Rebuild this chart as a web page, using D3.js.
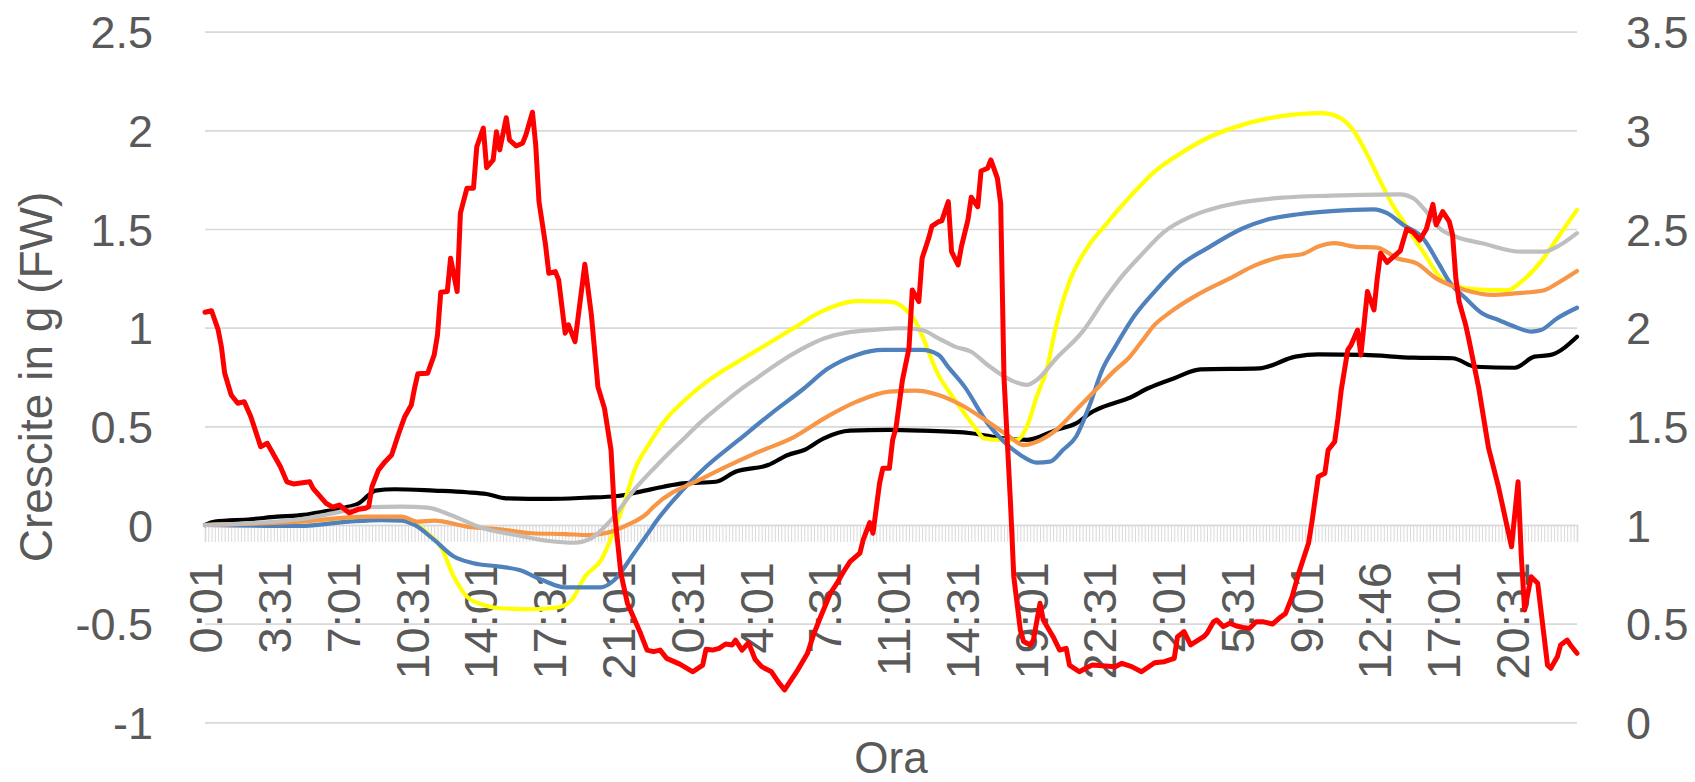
<!DOCTYPE html>
<html><head><meta charset="utf-8">
<script src="https://cdn.jsdelivr.net/npm/d3@7"></script>
<style>body{margin:0;background:#fff}svg{display:block}</style>
</head><body>
<svg id="c" width="1695" height="782"></svg>
<script>
// ---- data ----
const categoryCount = 420;            // one category every 10 minutes
const labelEvery = 21;
const tickLabels = ["0:01","3:31","7:01","10:31","14:01","17:31","21:01","0:31","4:01","7:31",
  "11:01","14:31","19:01","22:31","2:01","5:31","9:01","12:46","17:01","20:31"];
const leftTicks = [-1,-0.5,0,0.5,1,1.5,2,2.5];
const rightTicks = [0,0.5,1,1.5,2,2.5,3,3.5];
const yTitle = "Crescite in g (FW)";
const xTitle = "Ora";

// [category index, value]
const blackPts = [[0,0],[3,0.017],[14,0.029],[22,0.042],[30,0.051],[34,0.062],[39,0.076],[44,0.093],[47,0.11],[50,0.152],[52,0.174],[58,0.181],[70,0.174],[80,0.166],[86,0.157],[92,0.135],[105,0.132],[116,0.138],[126,0.147],[133,0.169],[140,0.194],[146,0.211],[156,0.219],[162,0.27],[172,0.304],[178,0.355],[183,0.38],[189,0.439],[197,0.478],[209,0.482],[219,0.478],[234,0.465],[244,0.439],[251,0.431],[260,0.482],[266,0.515],[271,0.574],[278,0.62],[282,0.642],[288,0.693],[296,0.744],[304,0.789],[322,0.794],[333,0.853],[340,0.865],[354,0.862],[369,0.848],[381,0.845],[388,0.802],[400,0.797],[406,0.853],[411,0.862],[419,0.954]];
const yellowPts = [[0,0],[20,0.01],[40,0.03],[55,0.04],[62,0.025],[68,-0.042],[72,-0.11],[76,-0.262],[80,-0.363],[85,-0.405],[90,-0.422],[100,-0.427],[108,-0.417],[112,-0.38],[116,-0.262],[121,-0.177],[125,-0.025],[128,0.11],[131,0.27],[136,0.42],[141,0.54],[147,0.64],[152,0.71],[158,0.78],[164,0.84],[171,0.91],[180,1.0],[188,1.08],[199,1.135],[209,1.132],[213,1.106],[217,1.03],[224,0.76],[229,0.634],[235,0.498],[238,0.439],[243,0.431],[248,0.431],[251,0.498],[254,0.65],[257,0.786],[260,1.014],[264,1.233],[270,1.419],[275,1.52],[278,1.58],[283,1.673],[290,1.791],[298,1.884],[306,1.96],[316,2.024],[324,2.058],[334,2.082],[341,2.087],[346,2.069],[351,1.993],[355,1.875],[359,1.74],[363,1.613],[366,1.537],[372,1.385],[378,1.242],[385,1.2],[393,1.191],[398,1.191],[402,1.233],[408,1.335],[413,1.453],[419,1.597]];
const bluePts = [[0,0],[29,-0.005],[44,0.017],[54,0.025],[60,0.022],[64,0],[70,-0.076],[76,-0.16],[82,-0.194],[90,-0.211],[96,-0.228],[103,-0.279],[110,-0.316],[121,-0.316],[125,-0.279],[131,-0.143],[136,-0.025],[137,0],[144,0.143],[153,0.295],[163,0.431],[173,0.566],[183,0.693],[190,0.79],[199,0.862],[207,0.887],[219,0.887],[224,0.862],[227,0.8],[232,0.7],[239,0.515],[244,0.422],[249,0.355],[254,0.316],[258,0.321],[262,0.38],[266,0.447],[270,0.6],[274,0.786],[278,0.904],[284,1.064],[290,1.183],[298,1.318],[306,1.402],[317,1.504],[324,1.546],[334,1.575],[344,1.591],[357,1.6],[361,1.58],[366,1.52],[372,1.453],[377,1.318],[380,1.233],[385,1.149],[390,1.073],[395,1.039],[400,1.005],[405,0.98],[408,0.988],[413,1.048],[419,1.101]];
const orangePts = [[0,0],[29,0.017],[49,0.042],[60,0.042],[65,0.017],[70,0.022],[80,-0.008],[90,-0.022],[100,-0.042],[110,-0.046],[117,-0.051],[125,-0.029],[129,0],[135,0.059],[137,0.093],[153,0.245],[168,0.363],[180,0.447],[190,0.549],[199,0.625],[209,0.676],[217,0.681],[224,0.659],[231,0.608],[239,0.524],[245,0.456],[250,0.405],[254,0.422],[260,0.482],[266,0.583],[272,0.684],[278,0.786],[282,0.845],[286,0.929],[290,1.014],[295,1.081],[303,1.166],[313,1.25],[321,1.318],[329,1.36],[335,1.372],[340,1.411],[345,1.428],[351,1.411],[358,1.406],[364,1.352],[370,1.326],[376,1.25],[385,1.19],[393,1.166],[400,1.174],[409,1.19],[413,1.225],[419,1.287]];
const greyPts = [[0,0],[29,0.029],[39,0.059],[49,0.09],[60,0.093],[68,0.088],[75,0.051],[85,-0.017],[95,-0.051],[105,-0.081],[113,-0.09],[118,-0.067],[124,0.025],[131,0.177],[137,0.285],[142,0.37],[147,0.45],[152,0.53],[157,0.6],[163,0.68],[169,0.75],[175,0.82],[182,0.89],[189,0.945],[196,0.975],[205,0.99],[214,0.997],[219,0.988],[224,0.946],[229,0.904],[234,0.878],[239,0.811],[246,0.735],[251,0.71],[254,0.735],[260,0.845],[268,0.98],[275,1.15],[280,1.26],[286,1.37],[293,1.487],[301,1.563],[310,1.613],[318,1.639],[329,1.659],[344,1.669],[365,1.676],[369,1.656],[373,1.588],[377,1.504],[382,1.461],[390,1.428],[402,1.385],[409,1.385],[413,1.411],[419,1.479]];
// red series on the right axis
const redPts = [[0,2.078],[2,2.086],[4,1.99],[5,1.904],[6,1.77],[8,1.659],[10,1.617],[12,1.625],[14,1.549],[17,1.397],[19,1.414],[23,1.296],[25,1.219],[27,1.208],[32,1.219],[33,1.186],[37,1.11],[39,1.09],[41,1.101],[44,1.062],[45,1.067],[47,1.08],[49,1.085],[50,1.093],[51,1.194],[53,1.279],[55,1.321],[57,1.355],[59,1.456],[61,1.549],[63,1.608],[64,1.693],[65,1.766],[68,1.769],[70,1.862],[71,1.963],[72,2.179],[74,2.183],[75,2.352],[77,2.183],[78,2.58],[80,2.707],[82,2.707],[83,2.917],[85,3.011],[86,2.811],[88,2.85],[89,2.993],[90,2.901],[92,3.064],[93,2.951],[95,2.921],[97,2.935],[98,2.977],[100,3.092],[101,2.926],[102,2.639],[104,2.419],[105,2.276],[107,2.284],[108,2.242],[110,1.972],[111,2.014],[113,1.929],[116,2.321],[118,2.064],[120,1.7],[122,1.591],[124,1.38],[125,1.076],[127,0.755],[129,0.603],[131,0.527],[133,0.451],[135,0.366],[137,0.358],[139,0.366],[141,0.324],[145,0.295],[149,0.256],[152,0.29],[153,0.37],[155,0.366],[157,0.375],[159,0.397],[161,0.392],[162,0.417],[164,0.366],[166,0.403],[168,0.319],[170,0.282],[173,0.256],[175,0.206],[177,0.164],[181,0.265],[184,0.35],[186,0.451],[188,0.535],[191,0.654],[193,0.705],[195,0.763],[197,0.814],[200,0.857],[201,0.924],[203,1.012],[204,0.958],[205,1.085],[206,1.211],[207,1.287],[209,1.287],[210,1.431],[211,1.49],[213,1.735],[215,1.896],[216,2.191],[218,2.132],[219,2.352],[221,2.453],[222,2.515],[224,2.537],[225,2.541],[227,2.639],[228,2.385],[230,2.318],[231,2.411],[233,2.546],[234,2.661],[236,2.613],[237,2.794],[239,2.808],[240,2.85],[242,2.757],[243,2.63],[244,1.75],[246,1.11],[247,0.738],[249,0.468],[250,0.409],[252,0.392],[253,0.417],[255,0.603],[256,0.518],[259,0.434],[261,0.366],[263,0.375],[264,0.29],[267,0.256],[269,0.274],[271,0.29],[275,0.285],[278,0.282],[280,0.299],[283,0.282],[286,0.256],[290,0.302],[293,0.307],[296,0.324],[297,0.434],[299,0.459],[301,0.392],[305,0.434],[306,0.451],[308,0.51],[309,0.518],[311,0.485],[313,0.502],[315,0.488],[317,0.481],[319,0.476],[321,0.51],[323,0.51],[326,0.498],[328,0.527],[330,0.552],[332,0.637],[334,0.755],[337,0.907],[338,1.009],[339,1.127],[340,1.245],[342,1.262],[343,1.38],[345,1.422],[346,1.541],[347,1.684],[349,1.887],[350,1.912],[352,1.988],[353,1.862],[355,2.183],[357,2.09],[358,2.25],[359,2.377],[361,2.331],[363,2.36],[365,2.389],[367,2.5],[369,2.483],[371,2.444],[373,2.5],[375,2.625],[376,2.521],[378,2.588],[380,2.537],[381,2.47],[382,2.25],[383,2.132],[385,2.014],[386,1.938],[389,1.693],[392,1.389],[395,1.194],[397,1.042],[399,0.89],[401,1.219],[402,0.839],[403,0.569],[405,0.738],[407,0.705],[410,0.29],[411,0.274],[413,0.332],[414,0.392],[416,0.417],[417,0.392],[419,0.35]];

// ---- layout ----
const plot = {left:205, right:1577, top:31.7, bottom:722.3};
const font = "'Liberation Sans', Arial, sans-serif";
const textCol = "#595959";
const gridCol = "#d9d9d9";

const svg = d3.select("#c");
const x = d3.scaleLinear().domain([0, categoryCount-1]).range([plot.left, plot.right]);
const yL = d3.scaleLinear().domain([-1, 2.5]).range([plot.bottom, plot.top]);
const yR = d3.scaleLinear().domain([0, 3.5]).range([plot.bottom, plot.top]);

// left axis + gridlines
const gL = svg.append("g").attr("transform", `translate(${plot.left},0)`)
  .call(d3.axisLeft(yL).tickValues(leftTicks).tickSize(-(plot.right-plot.left)).tickPadding(52)
    .tickFormat(d => String(d)));
gL.select(".domain").remove();
gL.selectAll(".tick line").attr("stroke", gridCol).attr("stroke-width", 1.7);
gL.selectAll(".tick text").attr("fill", textCol).style("font-family", font).style("font-size", "45px").attr("dy","0.36em");

// right axis
const gR = svg.append("g").attr("transform", `translate(${plot.right},0)`)
  .call(d3.axisRight(yR).tickValues(rightTicks).tickSize(0).tickPadding(49).tickFormat(d => String(d)));
gR.select(".domain").remove();
gR.selectAll(".tick text").attr("fill", textCol).style("font-family", font).style("font-size", "45px").attr("dy","0.36em");

// category axis at zero
const gX = svg.append("g").attr("transform", `translate(0,${yL(0)})`)
  .call(d3.axisBottom(x).tickValues(d3.range(categoryCount)).tickSize(17)
    .tickFormat(i => i % labelEvery === 0 ? (tickLabels[i/labelEvery] || "") : ""));
gX.select(".domain").attr("stroke", gridCol).attr("stroke-width", 1.7);
gX.selectAll(".tick line").attr("stroke", gridCol).attr("stroke-width", 1);
gX.selectAll(".tick text")
  .attr("fill", textCol).style("font-family", font).style("font-size", "47px")
  .attr("transform", "rotate(-90)").attr("x", -37).attr("y", 0).attr("dy", "0.36em")
  .style("text-anchor", "end");

// titles
svg.append("text").attr("transform", `translate(52,${(plot.top+plot.bottom)/2}) rotate(-90)`)
  .attr("text-anchor","middle").attr("fill", textCol).style("font-family", font).style("font-size","46px")
  .text(yTitle);
svg.append("text").attr("x", (plot.left+plot.right)/2).attr("y", 773)
  .attr("text-anchor","middle").attr("fill", textCol).style("font-family", font).style("font-size","44px")
  .text(xTitle);

// lines
const lineL = d3.line().x(d => x(d[0])).y(d => yL(d[1])).curve(d3.curveMonotoneX);
const lineR = d3.line().x(d => x(d[0])).y(d => yR(d[1]));
const series = [
  {pts: blackPts, col: "#000000", w: 4.2, gen: lineL},
  {pts: yellowPts, col: "#FFFF00", w: 4.2, gen: lineL},
  {pts: bluePts, col: "#4F81BD", w: 4.2, gen: lineL},
  {pts: orangePts, col: "#F79646", w: 4.2, gen: lineL},
  {pts: greyPts, col: "#BFBFBF", w: 4.2, gen: lineL},
  {pts: redPts, col: "#FF0000", w: 5, gen: lineR}
];
svg.append("g").selectAll("path").data(series).join("path")
  .attr("d", s => s.gen(s.pts)).attr("fill","none").attr("stroke", s => s.col)
  .attr("stroke-width", s => s.w).attr("stroke-linejoin","round").attr("stroke-linecap","round");
</script>
</body></html>
